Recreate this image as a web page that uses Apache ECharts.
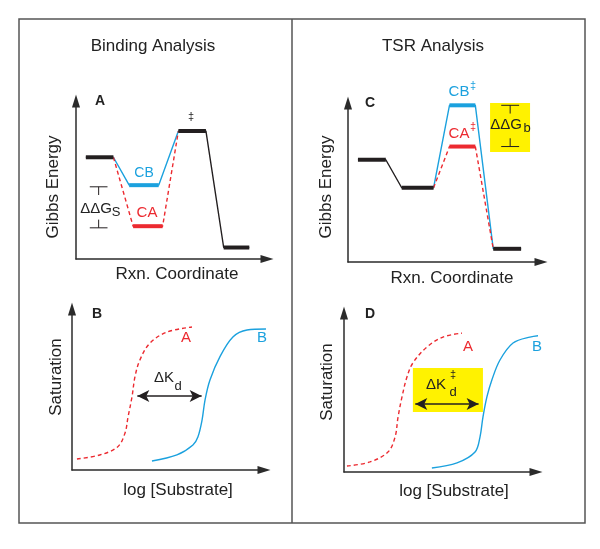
<!DOCTYPE html>
<html><head><meta charset="utf-8">
<script src="https://cdn.jsdelivr.net/npm/echarts@6/dist/echarts.min.js"></script>
<style>html,body{margin:0;padding:0;background:#fff}#c{width:600px;height:549px}</style>
</head><body><div id="c"></div>
<script>
// ---- Data (arbitrary units: reaction coordinate 0-100, energy / saturation 0-100) ----
// Panel A: Binding analysis energy diagram
const A_reactant = [[5, 62], [19, 62]];
const A_CB_path = [[19, 62], [27, 45], [42, 45], [52, 78]];
const A_CA_path = [[19, 62], [29, 20], [44, 20], [52, 78]];
const A_TS_path = [[52, 78], [66, 78], [75, 7], [88, 7]];
const A_bracket = [44, 19]; // ΔΔG_S spans CB to CA
// Panel C: TSR analysis energy diagram
const C_black_path = [[5, 62], [19, 62], [27, 45], [43, 45]];
const C_CB_path = [[43, 45], [51, 95], [64, 95], [73, 8]];
const C_CA_path = [[43, 45], [51, 70], [64, 70], [73, 8]];
const C_product = [[73, 8], [87, 8]];
const C_bracket = [95, 70]; // ΔΔG_b spans CB‡ to CA‡
// Panel B: saturation curves
const B_curveA = [[2.5, 6.6], [14, 9], [23, 13.8], [26.8, 22.2], [28.3, 31.7], [30.3, 43.7], [31.8, 55.7], [34.3, 65.9], [39.4, 76], [48, 82.6], [60.6, 85.6]];
const B_curveB = [[40.4, 5.4], [53, 9], [61.1, 15], [63.6, 19.8], [65.7, 29.9], [67.2, 41.9], [69.7, 53.9], [74.7, 67.7], [81.3, 79.6], [88.4, 83.8], [98, 84.4]];
const B_deltaKd = [[33, 44.3], [65.5, 44.3]];
// Panel D: saturation curves
const D_curveA = [[1.5, 3.6], [13.1, 6.1], [22.2, 12.1], [25.8, 21.2], [27.3, 33.3], [29.3, 45.5], [31.8, 57.6], [34.8, 66.1], [41.9, 75.8], [50, 81.8], [59.6, 84.2]];
const D_curveB = [[44.4, 2.4], [57.1, 5.5], [66.2, 12.1], [68.7, 21.2], [70.2, 33.3], [72.2, 45.5], [74.7, 55.8], [78.8, 67.9], [85.4, 78.2], [93.9, 81.8], [101.5, 83]];
const D_deltaKd = [[36, 41.2], [68, 41.2]];
// Highlight boxes [x0, y0, x1, y1]
const C_box = [71.4, 66.7, 91.5, 98.8];
const D_box = [34.8, 36.4, 70.2, 63];

// ---- Styles ----
const FONT = '"Liberation Sans", Arial, sans-serif';
const BLACK = '#231f20', BLUE = '#1ba1de', RED = '#ec2a30', YELLOW = '#fff200', AX = '#2b2b2b';

const grids = [
  {left: 76, top: 101, width: 191, height: 158},  // A
  {left: 348, top: 103, width: 193, height: 159}, // C
  {left: 72, top: 309, width: 192, height: 161},  // B
  {left: 344, top: 313, width: 192, height: 159}  // D
];
const yMax = [96.3, 96.4, 96.4, 96.4];
function axis(i, isX) {
  return {
    type: 'value', gridIndex: i, min: 0, max: isX ? 97 : yMax[i],
    axisLine: {show: true, onZero: false, symbol: ['none', 'triangle'], symbolSize: [8, 13], lineStyle: {color: AX, width: 1.5}},
    axisTick: {show: false}, axisLabel: {show: false}, splitLine: {show: false}
  };
}
const series = [];
function seg(i, pts, color, width, dashed, extra) {
  series.push(Object.assign({
    type: 'line', xAxisIndex: i, yAxisIndex: i, data: pts, symbol: 'none', clip: false,
    lineStyle: {color: color, width: width, type: dashed ? [4, 3] : 'solid', cap: 'butt'},
    silent: true, z: width > 2 ? 4 : 3
  }, extra || {}));
}
function path(i, pts, color, dashed) {
  seg(i, pts, color, 1.4, dashed);
  for (let k = 0; k + 1 < pts.length; k++) {
    if (pts[k][1] === pts[k + 1][1]) seg(i, [pts[k], pts[k + 1]], color, 4, false);
  }
}
function bracket(i, xs, ys) {
  const xm = (xs[0] + xs[1]) / 2;
  const d = (ys[0] - ys[1]) * 0.2;
  seg(i, [[xs[0], ys[0]], [xs[1], ys[0]]], BLACK, 1, false);
  seg(i, [[xm, ys[0]], [xm, ys[0] - d]], BLACK, 1, false);
  seg(i, [[xm, ys[1] + d], [xm, ys[1]]], BLACK, 1, false);
  seg(i, [[xs[0], ys[1]], [xs[1], ys[1]]], BLACK, 1, false);
}
function box(i, b) {
  series.push({type: 'line', xAxisIndex: i, yAxisIndex: i, data: [], clip: false, silent: true, z: 1,
    markArea: {silent: true, itemStyle: {color: YELLOW}, data: [[{coord: [b[0], b[1]]}, {coord: [b[2], b[3]]}]]}});
}
function dblArrow(i, pts) {
  series.push({type: 'line', xAxisIndex: i, yAxisIndex: i, data: [], clip: false, silent: true, z: 5,
    markLine: {silent: true, symbol: ['arrow', 'arrow'], symbolSize: [9, 12], label: {show: false},
      lineStyle: {color: BLACK, width: 1.5, type: 'solid'},
      data: [[{coord: pts[0]}, {coord: pts[1]}]]}});
}
function curve(i, pts, color, dashed) {
  seg(i, pts, color, 1.4, dashed, {smooth: 0.35});
}

// Panel A (grid 0)
path(0, A_reactant, BLACK, false);
path(0, A_CB_path, BLUE, false);
path(0, A_CA_path, RED, true);
path(0, A_TS_path, BLACK, false);
bracket(0, [7, 16], A_bracket);
// Panel C (grid 1)
box(1, C_box);
path(1, C_black_path, BLACK, false);
path(1, C_CB_path, BLUE, false);
path(1, C_CA_path, RED, true);
path(1, C_product, BLACK, false);
bracket(1, [77, 86], C_bracket);
// Panel B (grid 2)
curve(2, B_curveA, RED, true);
curve(2, B_curveB, BLUE, false);
dblArrow(2, B_deltaKd);
// Panel D (grid 3)
box(3, D_box);
curve(3, D_curveA, RED, true);
curve(3, D_curveB, BLUE, false);
dblArrow(3, D_deltaKd);

function T(text, x, y, size, color, opts) {
  return Object.assign({type: 'text', x: x, y: y, silent: true, z: 10,
    style: Object.assign({text: text, fill: color || '#222', font: (opts && opts.bold ? 'bold ' : '') + size + 'px ' + FONT,
      textAlign: 'center', textVerticalAlign: 'middle'}, opts && opts.style || {})}, opts && opts.el || {});
}
const graphic = [
  {type: 'rect', shape: {x: 19, y: 19, width: 566, height: 504}, style: {fill: 'none', stroke: '#555', lineWidth: 1.5}, silent: true},
  {type: 'line', shape: {x1: 292, y1: 19, x2: 292, y2: 523}, style: {stroke: '#555', lineWidth: 1.5}, silent: true},
  T('Binding Analysis', 153, 46, 17),
  T('TSR Analysis', 433, 46, 17),
  T('Gibbs Energy', 53, 187, 17, '#222', {el: {rotation: Math.PI / 2}}),
  T('Gibbs Energy', 326, 187, 17, '#222', {el: {rotation: Math.PI / 2}}),
  T('Rxn. Coordinate', 177, 274, 17),
  T('Rxn. Coordinate', 452, 278, 17),
  T('Saturation', 56, 377, 17, '#222', {el: {rotation: Math.PI / 2}}),
  T('Saturation', 327, 382, 17, '#222', {el: {rotation: Math.PI / 2}}),
  T('log [Substrate]', 178, 490, 17),
  T('log [Substrate]', 454, 491, 17),
  T('A', 100, 101, 14, '#222', {bold: true}),
  T('C', 370, 103, 14, '#222', {bold: true}),
  T('B', 97, 314, 14, '#222', {bold: true}),
  T('D', 370, 314, 14, '#222', {bold: true}),
  // Panel A annotations
  T('‡', 191, 117, 11),
  T('CB', 144, 173, 14, BLUE),
  T('CA', 147, 213, 15, RED),
  T('ΔΔG', 96, 209, 15),
  T('S', 116, 212, 13),
  // Panel C annotations
  T('CB', 459, 92, 15, BLUE),
  T('‡', 473, 86, 11, BLUE),
  T('CA', 459, 134, 15, RED),
  T('‡', 473, 127, 11, RED),
  T('ΔΔG', 506, 125, 15),
  T('b', 527, 128, 13),
  // Panel B annotations
  T('A', 186, 338, 15, RED),
  T('B', 262, 338, 15, BLUE),
  T('ΔK', 164, 378, 15),
  T('d', 178, 386, 13),
  // Panel D annotations
  T('A', 468, 347, 15, RED),
  T('B', 537, 347, 15, BLUE),
  T('ΔK', 436, 385, 15),
  T('d', 453, 392, 13),
  T('‡', 453, 375, 11)
];

const chart = echarts.init(document.getElementById('c'), null, {renderer: 'canvas'});
chart.setOption({
  animation: false,
  backgroundColor: '#fff',
  grid: grids,
  xAxis: [0, 1, 2, 3].map(i => axis(i, true)),
  yAxis: [0, 1, 2, 3].map(i => axis(i, false)),
  series: series,
  graphic: graphic
});
</script></body></html>
